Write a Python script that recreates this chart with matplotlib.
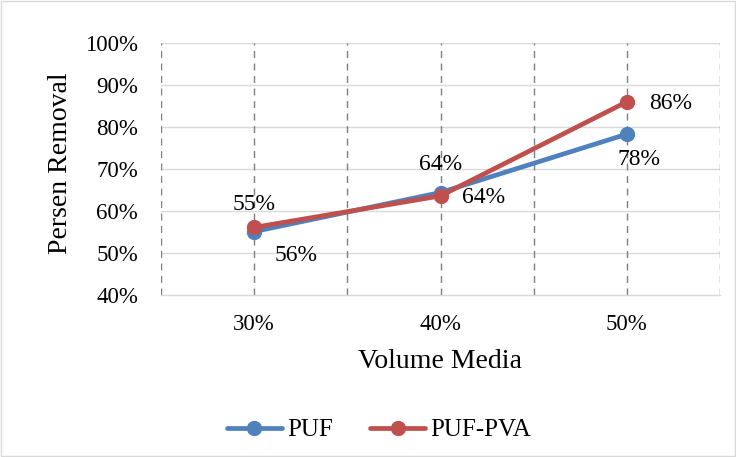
import numpy as np
import matplotlib.pyplot as plt
from matplotlib.patches import Rectangle

plt.rcParams['font.family'] = ['Liberation Serif', 'DejaVu Serif']

# data
categories = ['30%', '40%', '50%']
puf = [0.551, 0.644, 0.783]
puf_pva = [0.561, 0.636, 0.86]
puf_labels = ['55%', '64%', '78%']
pva_labels = ['56%', '64%', '86%']
yticks = [0.4, 0.5, 0.6, 0.7, 0.8, 0.9, 1.0]

blue = '#4F81BD'
red = '#C0504D'

fig = plt.figure(figsize=(7.36, 4.57), dpi=100)
ax = fig.add_axes([161/736, 1 - 295/457, 559/736, 252/457])

x = np.arange(len(categories))

# grid
for yv in yticks[1:]:
    ax.axhline(yv, color='#D9D9D9', lw=1.0, zorder=0)
for xv in np.arange(-0.5, 3.0, 0.5):
    ax.axvline(xv, color='#7F7F7F', lw=1.0, ls=(0, (5, 4)), zorder=1)

ax.plot(x, puf, color=blue, lw=3.4, marker='o', ms=10, label='PUF', zorder=3, solid_capstyle='round')
ax.plot(x, puf_pva, color=red, lw=3.4, marker='o', ms=10, label='PUF-PVA', zorder=4, solid_capstyle='round')

# data labels
puf_off = [(0, 27), (0, 28), (12, -25)]
for i, t in enumerate(puf_labels):
    ax.annotate(t, (x[i], puf[i]), xytext=puf_off[i], textcoords='offset pixels',
                ha='center', va='center', fontsize=17)
pva_off = [(42, -28), (43, -2), (44, -2)]
for i, t in enumerate(pva_labels):
    ax.annotate(t, (x[i], puf_pva[i]), xytext=pva_off[i], textcoords='offset pixels',
                ha='center', va='center', fontsize=17)

ax.set_xlim(-0.5, 2.5)
ax.set_ylim(0.4, 1.0)
ax.set_yticks(yticks)
ax.set_yticklabels(['%d%%' % round(v * 100) for v in yticks])
ax.set_xticks(x)
ax.set_xticklabels(categories)
ax.tick_params(axis='both', length=0, labelsize=16.5)
ax.tick_params(axis='y', pad=16.5)
ax.tick_params(axis='x', pad=14)

for s in ['top', 'right', 'left']:
    ax.spines[s].set_visible(False)
ax.spines['bottom'].set_color('#D9D9D9')
ax.spines['bottom'].set_linewidth(1.0)

ax.set_ylabel('Persen Removal', fontsize=20)
ax.yaxis.set_label_coords(-0.158, 0.524)
ax.set_xlabel('Volume Media', fontsize=20, labelpad=10)

leg = fig.legend(loc='center', bbox_to_anchor=(379/736, 1 - 430/457), ncol=2,
                 frameon=False, fontsize=18, handlelength=2.2, columnspacing=1.5,
                 handletextpad=0.2)

fig.patches.append(Rectangle((0.002, 0.003), 0.996, 0.994, transform=fig.transFigure,
                             fill=False, edgecolor='#D9D9D9', lw=1.0))

fig.savefig('out.png', dpi=100)
